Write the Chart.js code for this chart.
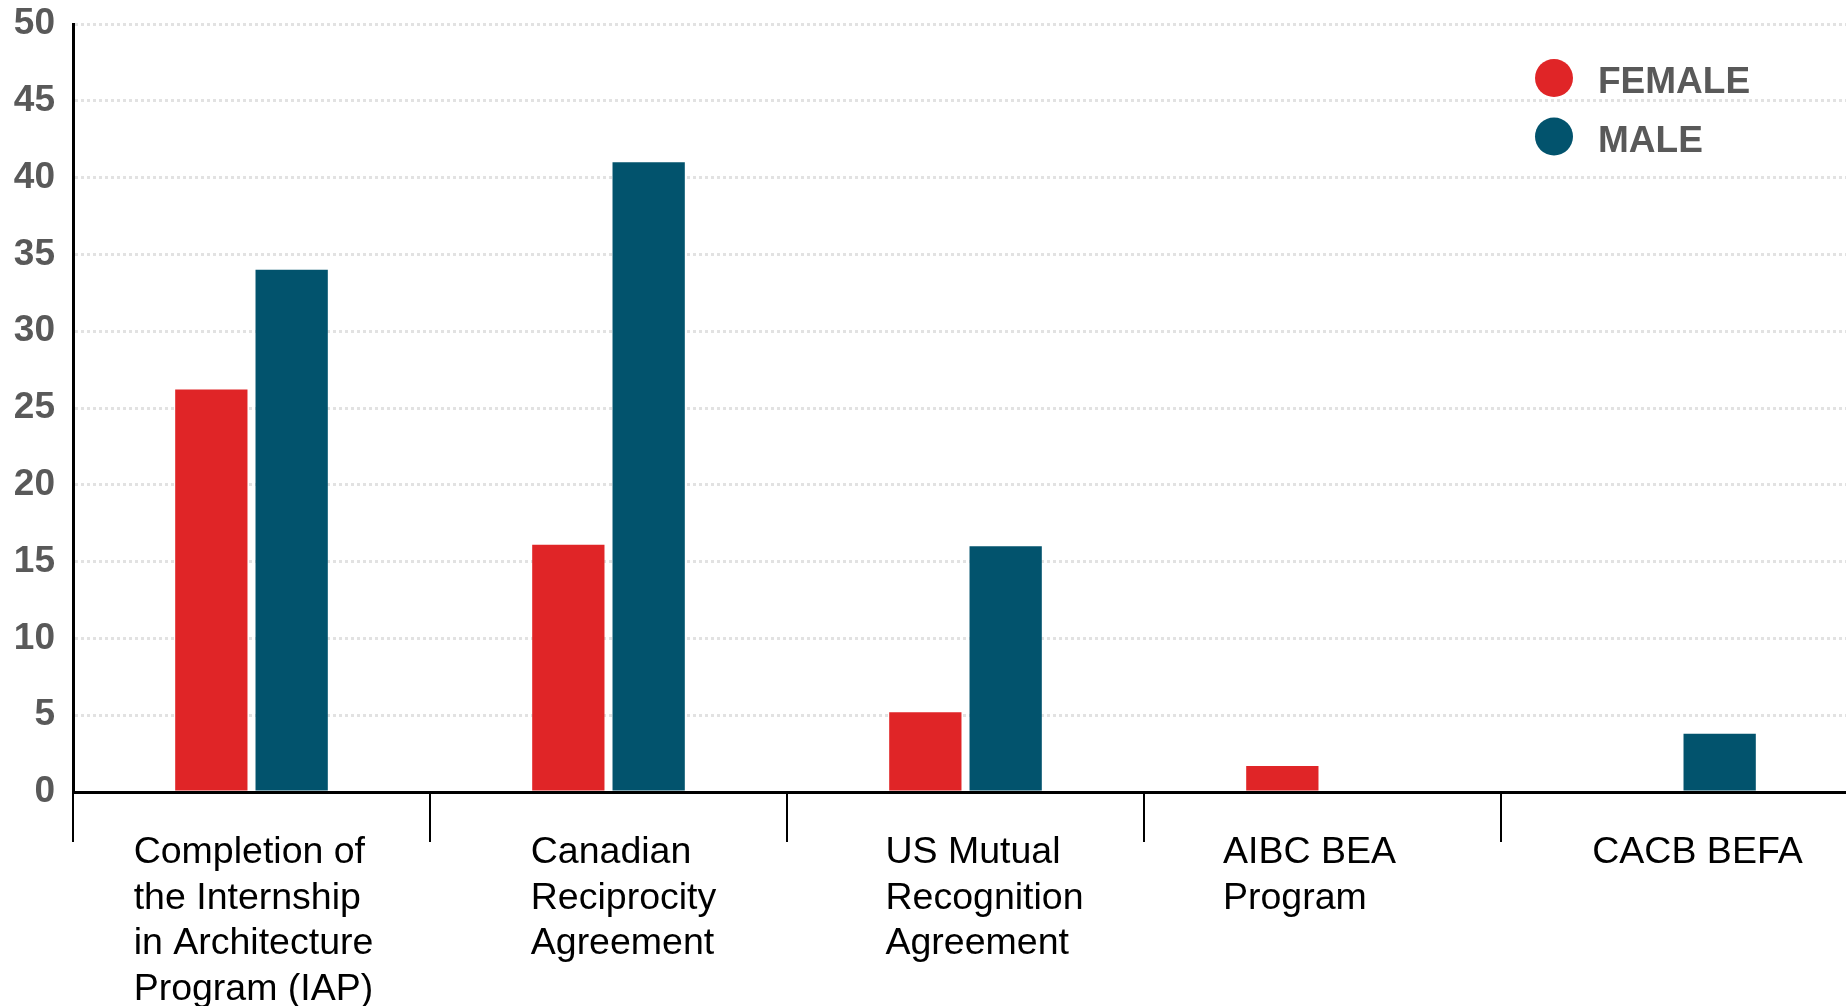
<!DOCTYPE html>
<html lang="en">
<head>
    <meta charset="UTF-8">
    <title>Licensure Path by Gender</title>
    <script src="https://cdn.jsdelivr.net/npm/chart.js"></script>
    <style>
        html, body { margin: 0; padding: 0; overflow: hidden; background: #fff; }
        #wrap { width: 1858px; height: 1006px; }
    </style>
</head>
<body>
    <div id="wrap"><canvas id="pathChart"></canvas></div>

    <script>
        // Values
        const categories = [
            ['Completion of', 'the Internship', 'in Architecture', 'Program (IAP)'],
            ['Canadian', 'Reciprocity', 'Agreement'],
            ['US Mutual', 'Recognition', 'Agreement'],
            ['AIBC BEA', 'Program'],
            ['CACB BEFA']
        ];
        const female = [26.2, 16.1, 5.2, 1.7, 0];
        const male = [34, 41, 16, 0, 3.8];
        const yTicks = [0, 5, 10, 15, 20, 25, 30, 35, 40, 45, 50];

        const RED = '#e02527';
        const BLUE = '#02536d';
        const GREY = '#595959';

        // x labels: each block left aligned, roughly centred under its category
        const labelNudge = [2, 15, 19, -13, 18];  // the original isn't quite centred
        const xLabels = {
            id: 'xLabels',
            afterDraw(chart) {
                const ctx = chart.ctx;
                const x = chart.scales.x;
                ctx.save();
                ctx.font = '37.5px "Liberation Sans", Arial, sans-serif';
                ctx.fillStyle = '#000';
                ctx.textAlign = 'left';
                ctx.textBaseline = 'alphabetic';
                categories.forEach((lines, i) => {
                    const cx = x.getPixelForValue(i) + labelNudge[i];
                    const w = Math.max(...lines.map(l => ctx.measureText(l).width));
                    lines.forEach((l, j) => {
                        ctx.fillText(l, cx - w / 2, 863 + j * 45.5);
                    });
                });
                ctx.restore();
            }
        };

        // legend drawn inside the plot, top right
        const dotLegend = {
            id: 'dotLegend',
            afterDraw(chart) {
                const ctx = chart.ctx;
                ctx.save();
                ctx.font = 'bold 37px "Liberation Sans", Arial, sans-serif';
                ctx.textBaseline = 'middle';
                ctx.textAlign = 'left';
                chart.data.datasets.forEach((ds, i) => {
                    const y = 78 + i * 58.5;
                    ctx.beginPath();
                    ctx.arc(1554, y, 19, 0, Math.PI * 2);
                    ctx.fillStyle = ds.backgroundColor;
                    ctx.fill();
                    ctx.fillStyle = GREY;
                    ctx.fillText(ds.label, 1598, y + 5);
                });
                ctx.restore();
            }
        };

        new Chart(document.getElementById('pathChart'), {
            type: 'bar',
            data: {
                labels: categories,
                datasets: [
                    { label: 'FEMALE', data: female, backgroundColor: RED },
                    { label: 'MALE', data: male, backgroundColor: BLUE }
                ]
            },
            options: {
                responsive: true,
                maintainAspectRatio: false,
                animation: false,
                categoryPercentage: 0.45,
                barPercentage: 0.9,
                layout: { padding: { top: 24, left: 14, right: 0, bottom: 164 } },
                plugins: {
                    legend: { display: false },
                    tooltip: { enabled: false }
                },
                scales: {
                    x: {
                        offset: true,
                        grid: {
                            display: true,
                            drawOnChartArea: false,
                            drawTicks: true,
                            tickLength: 50,
                            color: '#000',
                            lineWidth: 2
                        },
                        border: { display: true, color: '#000', width: 3 },
                        ticks: { display: false }
                    },
                    y: {
                        min: 0,
                        max: 50,
                        afterBuildTicks: axis => { axis.ticks = yTicks.map(v => ({ value: v })); },
                        afterFit: axis => {
                            axis.width = 59;
                            axis.paddingTop = 0;
                            axis.paddingBottom = 0;
                        },
                        grid: {
                            color: '#e2e2e2',
                            lineWidth: 3,
                            drawTicks: false
                        },
                        border: { display: true, color: '#000', width: 3, dash: [3, 3] },
                        ticks: {
                            padding: 18,
                            color: GREY,
                            font: { family: '"Liberation Sans", Arial, sans-serif', size: 37, weight: 'bold' }
                        }
                    }
                }
            },
            plugins: [xLabels, dotLegend]
        });
    </script>
</body>
</html>
